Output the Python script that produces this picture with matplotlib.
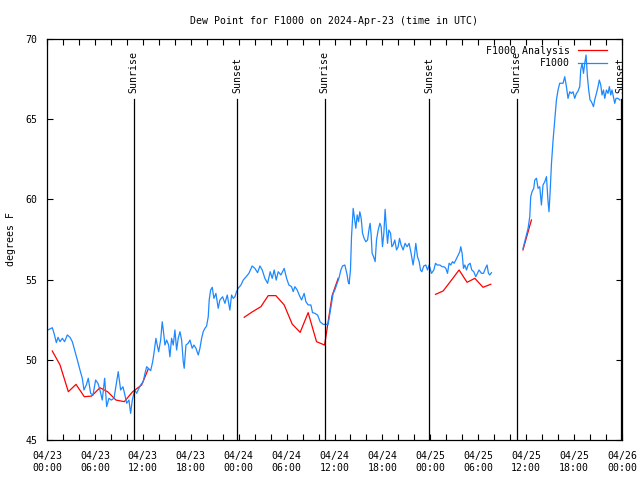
import numpy as np
import pandas as pd
import matplotlib
matplotlib.use('Agg')
import matplotlib.pyplot as plt

# Data: hours since 2024-04-23 00:00 UTC
start = pd.Timestamp('2024-04-23 00:00')

obs_hours = [
    0.1, 0.67, 0.88, 1.17, 1.38, 1.63, 1.92, 2.2, 2.55, 2.88, 3.17, 3.46, 3.8, 4.13, 4.42, 4.63,
    4.92, 5.17, 5.46, 5.76, 6.09, 6.38, 6.63, 6.92, 7.22, 7.47, 7.76, 8.05, 8.39, 8.72, 8.92, 9.22,
    9.51, 9.76, 9.97, 10.26, 10.47, 10.68, 10.98, 11.22, 11.51, 11.73, 12.05, 12.27, 12.48, 12.77,
    12.98, 13.23, 13.39, 13.64, 13.8, 13.98, 14.23, 14.43, 14.56, 14.77, 14.98, 15.23, 15.39, 15.6,
    15.81, 16.02, 16.23, 16.43, 16.65, 16.86, 17.06, 17.18, 17.4, 17.68, 17.9, 18.18, 18.4, 18.65,
    18.94, 19.15, 19.36, 19.56, 19.77, 19.98, 20.19, 20.31, 20.49, 20.69, 20.9, 21.15, 21.44, 21.65,
    21.99, 22.28, 22.57, 22.9, 23.11, 23.32, 23.53, 23.74, 23.94, 24.28, 24.57, 24.87, 25.28, 25.69,
    26.03, 26.37, 26.66, 26.95, 27.28, 27.62, 27.95, 28.2, 28.45, 28.7, 28.95, 29.29, 29.7, 30.0,
    30.29, 30.62, 30.83, 31.04, 31.33, 31.58, 31.88, 32.2, 32.42, 32.7, 33.04, 33.25, 33.54, 33.88,
    34.2, 34.58, 35.2, 35.42, 35.63, 35.83, 36.04, 36.26, 36.55, 36.8, 37.0, 37.3, 37.58, 37.71,
    37.83, 38.0, 38.13, 38.34, 38.51, 38.67, 38.84, 39.01, 39.17, 39.34, 39.51, 39.71, 39.92, 40.14,
    40.34, 40.46, 40.59, 40.71, 40.89, 41.09, 41.26, 41.47, 41.68, 41.84, 42.01, 42.18, 42.34, 42.51,
    42.64, 42.8, 43.02, 43.18, 43.34, 43.55, 43.77, 43.97, 44.14, 44.34, 44.59, 44.84, 45.09, 45.34,
    45.59, 45.84, 46.02, 46.18, 46.39, 46.6, 46.77, 46.93, 47.18, 47.43, 47.65, 47.85, 48.14, 48.44,
    48.65, 48.85, 49.19, 49.48, 49.72, 49.94, 50.15, 50.35, 50.56, 50.78, 50.98, 51.19, 51.48, 51.69,
    51.81, 51.98, 52.15, 52.32, 52.53, 52.73, 52.98, 53.19, 53.44, 53.69, 53.9, 54.1, 54.4, 54.65,
    54.9, 55.1, 55.28, 55.44, 55.65,
    59.61, 59.82, 60.04, 60.24, 60.45, 60.57, 60.74, 60.95, 61.08, 61.29, 61.49, 61.7, 61.91, 62.11,
    62.33, 62.54, 62.74, 62.86, 62.99, 63.17, 63.37, 63.58, 63.79, 63.99, 64.2, 64.42, 64.62, 64.83,
    65.04, 65.24, 65.46, 65.67, 65.87, 66.08, 66.29, 66.46, 66.71, 66.83, 67.0, 67.18, 67.33, 67.5,
    67.67, 67.83, 68.0, 68.17, 68.43, 68.58, 68.8, 69.0, 69.16, 69.34, 69.5, 69.68, 69.84, 70.05,
    70.25, 70.42, 70.59, 70.75, 70.92, 71.09, 71.25, 71.5, 71.71,
]
obs_dewpt = [
    51.86, 52.0, 51.65, 51.07, 51.4, 51.13, 51.34, 51.13, 51.55, 51.4, 51.13, 50.61, 49.99, 49.36, 48.85, 48.12,
    48.43, 48.85, 47.91, 47.8, 48.74, 48.53, 48.12, 47.49, 48.85, 47.08, 47.6, 47.49, 47.6, 48.64, 49.26, 48.12,
    48.32, 47.8, 47.29, 47.49, 46.66, 47.49, 48.12, 47.91, 48.22, 48.43, 48.64, 49.16, 49.57, 49.43,
    49.32, 49.88, 50.4, 51.34, 50.92, 50.5, 51.23, 52.37, 51.86, 50.92, 51.23, 50.92, 50.19, 51.34,
    50.92, 51.86, 50.61, 51.34, 51.75, 51.23, 49.88, 49.47, 50.92, 51.03, 51.23, 50.72, 50.92, 50.72,
    50.3, 50.72, 51.34, 51.75, 51.96, 52.1, 52.68, 53.73, 54.35, 54.52, 53.83, 54.14, 53.21, 53.73,
    53.93, 53.52, 54.04, 53.1, 54.04, 53.83, 53.93, 54.25, 54.46, 54.66, 54.97, 55.14, 55.39, 55.85,
    55.7, 55.43, 55.85, 55.6, 55.08, 54.77, 55.49, 55.08, 55.6, 54.97, 55.49, 55.29, 55.7, 55.08,
    54.66, 54.56, 54.25, 54.56, 54.35, 54.04, 53.73, 54.14, 53.62, 53.42, 53.42, 52.94, 52.9, 52.79,
    52.37, 52.21, 52.21, 52.9, 53.52, 54.14, 54.35, 54.66, 55.08, 55.6, 55.85, 55.91, 55.29, 54.87,
    54.73, 55.6, 57.67, 59.44, 58.82, 58.2, 59.03, 58.61, 59.23, 58.82, 57.89, 57.57, 57.36, 57.47,
    58.2, 58.51, 57.78, 56.64, 56.43, 56.12, 57.47, 58.09, 58.51, 58.3, 57.05, 57.89, 59.38, 58.09,
    57.26, 58.09, 57.89, 57.05, 57.16, 57.47, 56.85, 57.05, 57.57, 57.16, 56.85, 57.26, 57.05, 57.26,
    56.64, 55.91, 56.53, 57.26, 56.43, 56.12, 55.6, 55.49, 55.85, 55.91, 55.6, 55.91, 55.39, 55.6,
    56.02, 55.91, 55.91, 55.8, 55.8, 55.7, 55.39, 56.02, 55.91, 56.12, 56.02, 56.22, 56.53, 56.74,
    57.05, 56.64, 55.7, 55.91, 55.6, 55.91, 56.02, 55.6, 55.49, 55.18, 55.39, 55.6, 55.39, 55.39,
    55.7, 55.91, 55.39, 55.29, 55.43,
    56.95, 57.36, 57.78, 58.2, 58.92, 60.17, 60.48, 60.69, 61.21, 61.32, 60.69, 60.79, 59.65, 60.9,
    61.1, 61.42, 59.86, 59.23, 60.38, 62.25, 63.7, 64.95, 66.2, 66.82, 67.24, 67.24, 67.24, 67.65,
    67.03, 66.3, 66.71, 66.61, 66.71, 66.3, 66.61, 66.71, 67.03, 68.07, 68.48, 67.86, 68.48, 69.0,
    67.65, 66.82, 66.2, 66.09, 65.78, 66.2, 66.61, 67.03, 67.44, 67.13, 66.51, 66.82, 66.3, 66.82,
    66.61, 67.03, 66.51, 66.82, 66.4, 65.99, 66.3, 66.3, 66.2,
]
obs_gap = (55.65, 59.61)  # no observations between these hours

ana_hours = [
    0.66, 1.63, 2.67, 3.63, 4.67, 5.59, 6.63, 7.59, 8.64, 9.68, 10.72, 11.85, 12.7, np.nan,
    24.69, 25.74, 26.78, 27.7, 28.66, 29.7, 30.7, 31.7, 32.7, 33.75, 34.76, 35.7, 36.46, np.nan,
    48.65, 49.6, 50.65, 51.6, 52.6, 53.57, 54.6, 55.57, np.nan,
    59.6, 60.66,
]
ana_dewpt = [
    50.55, 49.68, 48.01, 48.47, 47.70, 47.74, 48.26, 48.01, 47.49, 47.39, 48.01, 48.43, 49.45, np.nan,
    52.65, 53.0, 53.31, 54.0, 54.0, 53.42, 52.23, 51.71, 52.94, 51.13, 50.92, 54.0, 55.08, np.nan,
    54.08, 54.29, 54.97, 55.6, 54.83, 55.08, 54.52, 54.71, np.nan,
    56.85, 58.72,
]

sun_labels = ['Sunrise', 'Sunset', 'Sunrise', 'Sunset', 'Sunrise', 'Sunset']
sun_hours = [10.85, 23.82, 34.76, 47.85, 58.79, 71.84]

FONT = 'DejaVu Sans Mono'
FS = 7.1
BLUE = '#1e88ff'

plt.rcParams['font.family'] = FONT
plt.rcParams['font.size'] = FS

fig = plt.figure(figsize=(6.4, 4.8), dpi=100)
ax = fig.add_axes([47 / 640, 40 / 480, 575 / 640, 401 / 480])

# split observations at the data gap
hrs = np.array(obs_hours)
vals = np.array(obs_dewpt)
gap_mask = hrs > obs_gap[0] + 0.01
hrs_plot = np.concatenate([hrs[~gap_mask], [np.nan], hrs[gap_mask]])
vals_plot = np.concatenate([vals[~gap_mask], [np.nan], vals[gap_mask]])

ax.plot(ana_hours, ana_dewpt, color='red', lw=0.9, label='F1000 Analysis')
ax.plot(hrs_plot, vals_plot, color=BLUE, lw=0.9, label='F1000')

for name, h in zip(sun_labels, sun_hours):
    ax.axvline(h, ymin=0, ymax=0.85, color='black', lw=0.9)
    ax.text(h, 0.865, name, transform=ax.get_xaxis_transform(), rotation=90,
            ha='center', va='bottom', fontsize=FS, clip_on=False)

ax.set_xlim(0, 72)
ax.set_ylim(45, 70)
ax.set_yticks([45, 50, 55, 60, 65, 70])

major = np.arange(0, 73, 6)
ax.set_xticks(major)
ax.set_xticks(np.arange(0, 73, 2), minor=True)
ax.set_xticklabels([(start + pd.Timedelta(hours=float(h))).strftime('%m/%d\n%H:%M') for h in major])

ax.tick_params(which='both', direction='in', top=True, right=True, length=4, width=0.8,
               labelsize=FS)
ax.tick_params(axis='x', pad=8)
ax.tick_params(axis='y', pad=7)
for s in ax.spines.values():
    s.set_linewidth(0.9)

ax.set_ylabel('degrees F', fontsize=FS, labelpad=7)
ax.set_title('Dew Point for F1000 on 2024-Apr-23 (time in UTC)', fontsize=FS, pad=11)

ax.legend(loc='upper right', bbox_to_anchor=(1 - 8 / 575, 1.0), frameon=False,
          markerfirst=False, handlelength=3.0, handletextpad=0.8, labelspacing=0.25,
          borderaxespad=0.3, fontsize=FS)

fig.savefig('out.png', dpi=100)
